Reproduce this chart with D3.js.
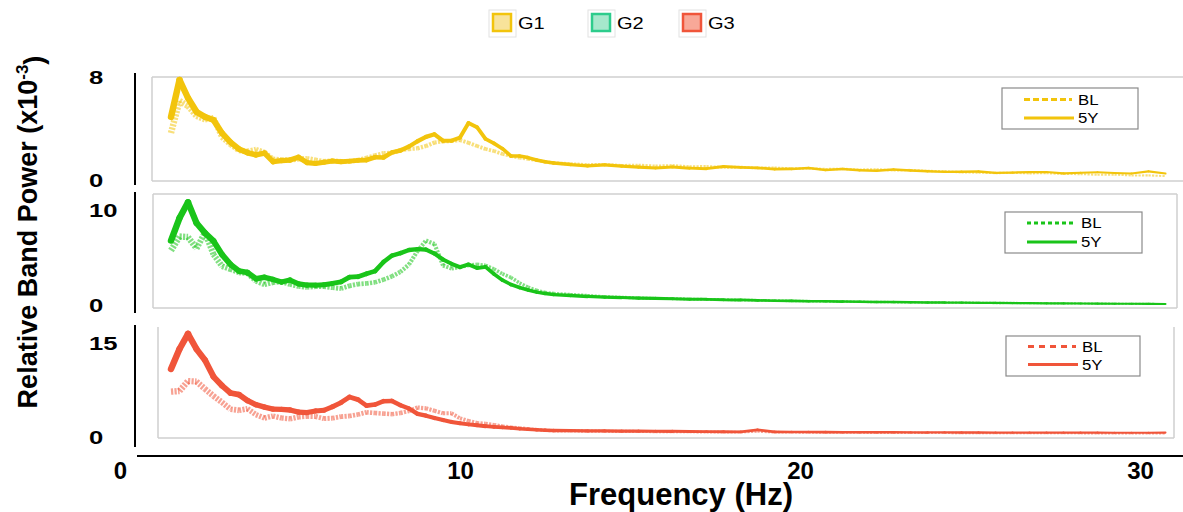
<!DOCTYPE html>
<html>
<head>
<meta charset="utf-8">
<script src="https://cdn.jsdelivr.net/npm/d3@7"></script>
<style>
  html, body { margin: 0; padding: 0; background: #fff; }
  svg { display: block; font-family: "Liberation Sans", Arial, Helvetica, sans-serif; }
</style>
</head>
<body>
<svg id="chart" width="1183" height="512"></svg>
<script>
// ---- data -------------------------------------------------------------
const groups = ["G1", "G2", "G3"];
const conditions = ["BL", "5Y"];

// frequency grid (Hz): fine steps through delta/theta/alpha, coarser above
const freqLow = d3.range(1.5, 12.76, 0.25);
const freqHigh = d3.range(13.25, 30.76, 0.5);
const frequency = freqLow.concat(freqHigh);

const xTickValues = [0, 10, 20, 30];
const yTickG1 = [0, 8];
const yTickG2 = [0, 10];
const yTickG3 = [0, 15];

// relative band power (x10^-3)
const g1BL = [
  3.65, 6.14, 5.75, 4.97, 4.7, 4.82, 3.34, 2.76, 2.29, 2.21,
  2.37, 2.14, 1.61, 1.57, 1.55, 1.63, 1.67, 1.55, 1.44, 1.5,
  1.45, 1.45, 1.54, 1.71, 1.9, 2.07, 2.1, 2.33, 2.41, 2.46,
  2.64, 2.91, 3.0, 3.03, 3.1, 2.89, 2.64, 2.41, 2.25, 2.02,
  1.86, 1.73, 1.63, 1.53, 1.42, 1.32,
  1.25, 1.18, 1.2, 1.12, 1.15, 1.08, 1.12, 1.03, 1.05, 0.98,
  1.0, 0.93, 0.95, 0.88, 0.9, 0.84, 0.86, 0.8, 0.82, 0.76,
  0.77, 0.7, 0.68, 0.6, 0.58, 0.54, 0.56, 0.52, 0.53, 0.47,
  0.46, 0.41, 0.42, 0.35, 0.36, 0.3
];
const g1Y5 = [
  4.9, 7.77, 6.37, 5.3, 4.9, 4.66, 3.65, 2.93, 2.4, 2.12,
  1.95, 2.09, 1.42, 1.5, 1.55, 1.77, 1.35, 1.28, 1.37, 1.47,
  1.42, 1.47, 1.52, 1.55, 1.77, 1.75, 2.15, 2.29, 2.6, 3.01,
  3.35, 3.55, 3.05, 3.05, 3.3, 4.43, 4.1, 3.2, 2.85, 2.43,
  1.86, 1.86, 1.74, 1.55, 1.42, 1.32,
  1.2, 1.1, 1.17, 1.08, 1.0, 0.93, 1.01, 0.92, 0.88, 1.05,
  0.98, 0.94, 0.85, 0.86, 0.93, 0.78, 0.86, 0.76, 0.72, 0.82,
  0.74, 0.68, 0.63, 0.64, 0.66, 0.55, 0.58, 0.62, 0.62, 0.52,
  0.56, 0.6, 0.54, 0.5, 0.67, 0.5
];
const g2BL = [
  5.79, 7.26, 7.21, 6.0, 7.68, 5.37, 4.14, 3.83, 3.49, 3.39,
  2.58, 2.21, 2.44, 2.52, 2.23, 2.03, 1.92, 2.0, 2.0, 1.88,
  1.79, 2.07, 2.25, 2.32, 2.44, 2.72, 3.07, 3.55, 4.32, 5.74,
  6.84, 6.47, 4.21, 3.89, 4.05, 4.24, 4.32, 4.22, 3.83, 3.33,
  2.95, 2.37, 1.93, 1.6, 1.38, 1.26,
  1.15, 1.05, 0.92, 0.86, 0.8, 0.74, 0.73, 0.68, 0.64, 0.62,
  0.57, 0.55, 0.52, 0.48, 0.46, 0.43, 0.42, 0.39, 0.37, 0.35,
  0.35, 0.31, 0.32, 0.29, 0.29, 0.26, 0.27, 0.24, 0.24, 0.21,
  0.22, 0.19, 0.2, 0.17, 0.18, 0.15
];
const g2Y5 = [
  6.84, 9.2, 10.87, 8.68, 7.63, 6.79, 5.37, 4.32, 3.63, 3.47,
  2.82, 2.97, 2.74, 2.47, 2.68, 2.28, 2.15, 2.14, 2.19, 2.32,
  2.49, 2.98, 3.03, 3.34, 3.62, 4.58, 5.26, 5.51, 5.84, 5.94,
  5.89, 5.47, 4.84, 4.39, 4.03, 4.32, 3.94, 4.07, 3.32, 2.67,
  2.21, 1.89, 1.63, 1.41, 1.26, 1.15,
  1.05, 0.95, 0.88, 0.84, 0.78, 0.75, 0.72, 0.66, 0.65, 0.6,
  0.58, 0.54, 0.5, 0.49, 0.45, 0.44, 0.41, 0.4, 0.36, 0.36,
  0.34, 0.32, 0.31, 0.3, 0.28, 0.27, 0.26, 0.25, 0.23, 0.22,
  0.21, 0.2, 0.19, 0.18, 0.17, 0.15
];
const g3BL = [
  7.24, 7.34, 8.93, 8.85, 7.66, 6.54, 5.53, 4.43, 4.26, 4.51,
  3.56, 3.02, 3.35, 3.03, 2.9, 3.19, 3.3, 3.27, 2.93, 3.0,
  3.25, 3.35, 3.59, 3.94, 3.83, 3.73, 3.64, 3.83, 4.15, 4.7,
  4.58, 4.18, 3.78, 3.78, 2.98, 2.57, 2.25, 2.14, 1.95, 1.72,
  1.56, 1.44, 1.29, 1.18, 1.07, 1.0,
  0.98, 0.95, 0.92, 0.9, 0.88, 0.86, 0.84, 0.82, 0.8, 0.79,
  0.78, 0.9, 0.77, 0.75, 0.74, 0.72, 0.71, 0.7, 0.69, 0.68,
  0.67, 0.66, 0.65, 0.64, 0.63, 0.62, 0.62, 0.61, 0.6, 0.6,
  0.59, 0.58, 0.58, 0.57, 0.57, 0.56
];
const g3Y5 = [
  10.85, 14.04, 16.46, 14.04, 12.28, 9.62, 8.2, 7.02, 6.76, 5.81,
  5.15, 4.78, 4.45, 4.4, 4.31, 3.97, 3.89, 4.16, 4.27, 4.83,
  5.49, 6.38, 5.96, 5.01, 5.18, 5.71, 5.76, 5.07, 4.55, 3.7,
  3.4, 3.03, 2.7, 2.41, 2.19, 2.01, 1.87, 1.72, 1.61, 1.52,
  1.45, 1.32, 1.23, 1.15, 1.07, 1.04,
  1.02, 0.98, 0.96, 0.95, 0.94, 0.92, 0.9, 0.88, 0.86, 0.84,
  0.82, 1.15, 0.83, 0.8, 0.79, 0.78, 0.77, 0.76, 0.75, 0.75,
  0.74, 0.73, 0.73, 0.72, 0.72, 0.71, 0.71, 0.7, 0.7, 0.69,
  0.69, 0.7, 0.68, 0.68, 0.69, 0.7
];

// ---- layout -----------------------------------------------------------
const svg = d3.select("#chart");

const x = d3.scaleLinear().domain([0, 30]).range([120, 1140]);

// stroke weight tapers with frequency
const strokeW = d3.scaleLinear()
  .domain([1.5, 4, 8, 12, 20, 31])
  .range([6.5, 5.5, 4.5, 3.5, 2.6, 2.0])
  .clamp(true);

const panels = [
  { group: "G1", bl: g1BL, y5: g1Y5, ticks: yTickG1, color: "#f2c40c",
    yRange: [180, 77], frame: { l: 152, r: 1200, t: 77, b: 181, top: true },
    axisSpan: [73, 185],
    legend: { l: 1002, r: 1138, t: 88, b: 129, y1: 99.5, y2: 118, dash: "6,3" } },
  { group: "G2", bl: g2BL, y5: g2Y5, ticks: yTickG2, color: "#19c419",
    yRange: [305.5, 210.5], frame: { l: 153, r: 1177, t: 194, b: 308, top: true },
    axisSpan: [192, 313],
    legend: { l: 1005, r: 1142, t: 212, b: 253, y1: 223, y2: 242, dash: "4,3" } },
  { group: "G3", bl: g3BL, y5: g3Y5, ticks: yTickG3, color: "#f0553a",
    yRange: [437, 343], frame: { l: 158, r: 1174, t: 327, b: 438, top: false },
    axisSpan: [325, 447],
    legend: { l: 1006, r: 1140, t: 336, b: 376, y1: 346.5, y2: 364.5, dash: "6,5" } }
];

function drawSeries(g, values, y, color, dashed) {
  const pts = frequency.map((f, i) => ({ f, px: x(f), py: y(values[i]) }));
  const segs = d3.pairs(pts);
  g.selectAll(null)
    .data(segs)
    .join("line")
    .attr("x1", d => d[0].px).attr("y1", d => d[0].py)
    .attr("x2", d => d[1].px).attr("y2", d => d[1].py)
    .attr("stroke", color)
    .attr("stroke-width", d => strokeW((d[0].f + d[1].f) / 2))
    .attr("stroke-linecap", dashed ? "butt" : "round")
    .attr("stroke-dasharray", dashed ? "2.2,1.3" : null)
    .attr("stroke-opacity", dashed ? 0.55 : 1);
}

panels.forEach(p => {
  const y = d3.scaleLinear().domain([0, p.ticks[1]]).range(p.yRange);
  const g = svg.append("g").attr("class", "panel-" + p.group);
  const fr = p.frame;

  // light frame
  const frame = g.append("g").attr("stroke", "#cfcfcf").attr("stroke-width", 1.5).attr("fill", "none");
  frame.append("line").attr("x1", fr.l).attr("x2", fr.l).attr("y1", fr.t).attr("y2", fr.b);
  frame.append("line").attr("x1", fr.l).attr("x2", fr.r).attr("y1", fr.b).attr("y2", fr.b);
  frame.append("line").attr("x1", fr.r).attr("x2", fr.r).attr("y1", fr.t).attr("y2", fr.b);
  if (fr.top) frame.append("line").attr("x1", fr.l).attr("x2", fr.r).attr("y1", fr.t).attr("y2", fr.t);

  // curves: baseline first, 5-year follow-up on top
  drawSeries(g, p.bl, y, p.color, true);
  drawSeries(g, p.y5, y, p.color, false);

  // y axis line and labels
  g.append("line")
    .attr("x1", 135).attr("x2", 135)
    .attr("y1", p.axisSpan[0]).attr("y2", p.axisSpan[1])
    .attr("stroke", "#000").attr("stroke-width", 2);

  const ay = g.append("g")
    .attr("transform", "translate(89,0)")
    .call(d3.axisLeft(y).tickValues(p.ticks).tickSize(0).tickPadding(0).tickFormat(d3.format("d")));
  ay.select(".domain").remove();
  ay.selectAll("text")
    .attr("x", 0)
    .attr("text-anchor", "start")
    .attr("transform", "scale(1.35,1)")
    .style("font-family", "'Liberation Sans', Arial, sans-serif")
    .style("font-size", "19px")
    .style("font-weight", "bold")
    .attr("fill", "#000");

  // in-panel legend
  const L = p.legend;
  const lg = g.append("g");
  lg.append("rect")
    .attr("x", L.l).attr("y", L.t).attr("width", L.r - L.l).attr("height", L.b - L.t)
    .attr("fill", "#fff").attr("stroke", "#8a8a8a").attr("stroke-width", 1.2);
  lg.append("line")
    .attr("x1", L.l + 22).attr("x2", L.l + 70).attr("y1", L.y1).attr("y2", L.y1)
    .attr("stroke", p.color).attr("stroke-width", 3).attr("stroke-dasharray", L.dash);
  lg.append("line")
    .attr("x1", L.l + 22).attr("x2", L.l + 72).attr("y1", L.y2).attr("y2", L.y2)
    .attr("stroke", p.color).attr("stroke-width", 3);
  [[conditions[0], L.y1], [conditions[1], L.y2]].forEach(([t, ly]) => {
    lg.append("text")
      .attr("transform", `translate(${L.l + 76},${ly}) scale(1.12,1)`)
      .attr("dy", "0.36em")
      .style("font-size", "15px")
      .attr("fill", "#000")
      .text(t);
  });
});

// ---- shared x axis ----------------------------------------------------
svg.append("line")
  .attr("x1", 137).attr("x2", 1183).attr("y1", 456).attr("y2", 456)
  .attr("stroke", "#000").attr("stroke-width", 2);

const ax = svg.append("g")
  .attr("transform", "translate(0,456)")
  .call(d3.axisBottom(x).tickValues(xTickValues).tickSize(0).tickPadding(0).tickFormat(d3.format("d")));
ax.select(".domain").remove();
ax.selectAll("text")
  .attr("dy", "0.95em")
  .style("font-family", "'Liberation Sans', Arial, sans-serif")
  .style("font-size", "24px")
  .style("font-weight", "bold")
  .attr("fill", "#000");

svg.append("text")
  .attr("x", 681).attr("y", 505)
  .attr("text-anchor", "middle")
  .style("font-size", "31px").style("font-weight", "bold")
  .text("Frequency (Hz)");

// y title with superscript exponent
const yt = svg.append("text")
  .attr("transform", "translate(37,232) rotate(-90)")
  .attr("text-anchor", "middle")
  .style("font-size", "27px").style("font-weight", "bold");
yt.append("tspan").text("Relative Band Power (x10");
yt.append("tspan").attr("dy", "-0.55em").style("font-size", "17px").text("-3");
yt.append("tspan").attr("dy", "0.55em").text(")");

// ---- group legend -----------------------------------------------------
const groupFill = { G1: "#f8e39a", G2: "#a6e8cc", G3: "#f8a898" };
const groupStroke = { G1: "#f2c40c", G2: "#2dcc8c", G3: "#f0553a" };
const legendX = { G1: 492, G2: 591, G3: 682 };
groups.forEach(gname => {
  const lx = legendX[gname];
  svg.append("rect")
    .attr("x", lx - 3).attr("y", 10).attr("width", 27).attr("height", 27)
    .attr("fill", "#fff").attr("stroke", "#e2e2e2").attr("stroke-width", 1);
  svg.append("rect")
    .attr("x", lx + 1).attr("y", 14).attr("width", 18).attr("height", 17)
    .attr("fill", groupFill[gname]).attr("stroke", groupStroke[gname]).attr("stroke-width", 2.5);
  svg.append("text")
    .attr("transform", `translate(${lx + 26},23) scale(1.18,1)`)
    .attr("dy", "0.36em")
    .style("font-size", "17px")
    .attr("fill", "#000")
    .text(gname);
});
</script>
</body>
</html>
